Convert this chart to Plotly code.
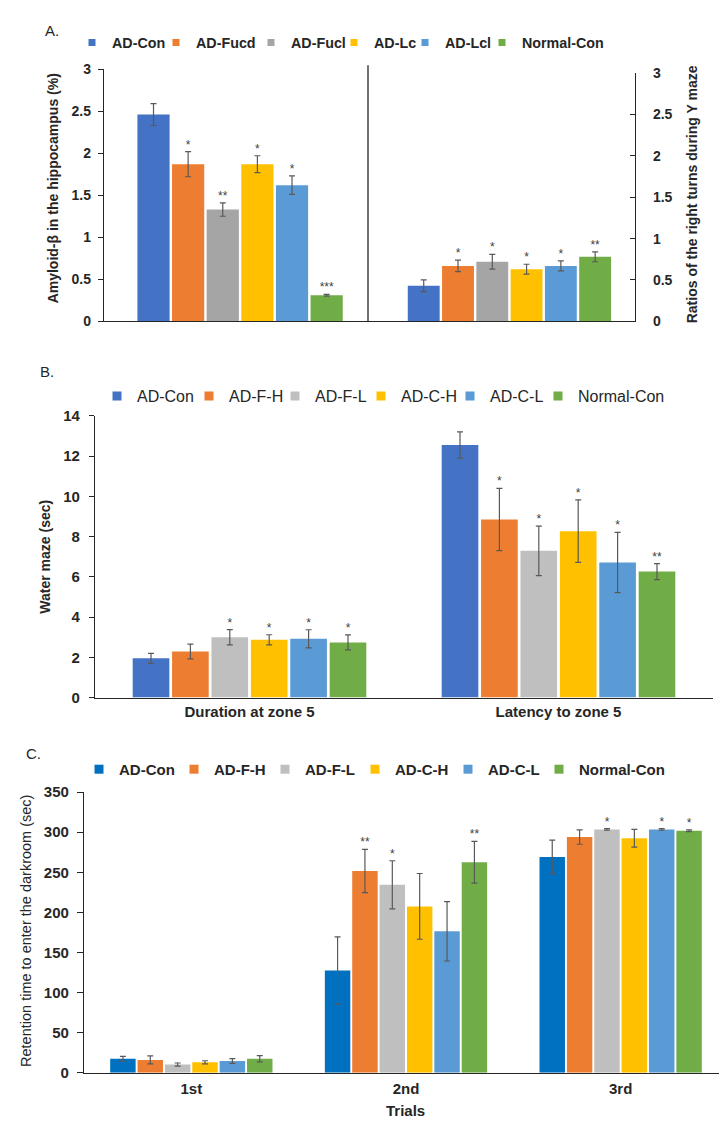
import plotly.graph_objects as go

# ---------------- data ----------------
series_A = ["AD-Con", "AD-Fucd", "AD-Fucl", "AD-Lc", "AD-Lcl", "Normal-Con"]
series_BC = ["AD-Con", "AD-F-H", "AD-F-L", "AD-C-H", "AD-C-L", "Normal-Con"]

colors_A = ["#4472C4", "#ED7D31", "#A5A5A5", "#FFC000", "#5B9BD5", "#70AD47"]
colors_B = ["#4472C4", "#ED7D31", "#BFBFBF", "#FFC000", "#5B9BD5", "#70AD47"]
colors_C = ["#0070C0", "#ED7D31", "#BFBFBF", "#FFC000", "#5B9BD5", "#70AD47"]

# Panel A
amyloid = [2.46, 1.87, 1.33, 1.87, 1.62, 0.31]
amyloid_err = [0.13, 0.15, 0.08, 0.10, 0.11, 0.01]
amyloid_sig = ["", "*", "**", "*", "*", "***"]
yturn = [0.43, 0.67, 0.72, 0.63, 0.67, 0.78]
yturn_err = [0.07, 0.07, 0.09, 0.06, 0.06, 0.06]
yturn_sig = ["", "*", "*", "*", "*", "**"]

# Panel B
wm_cats = ["Duration at zone 5", "Latency to zone 5"]
wm_duration = [1.95, 2.29, 3.00, 2.87, 2.92, 2.74]
wm_duration_err = [0.25, 0.37, 0.38, 0.25, 0.45, 0.37]
wm_duration_sig = ["", "", "*", "*", "*", "*"]
wm_latency = [12.55, 8.85, 7.29, 8.27, 6.71, 6.26]
wm_latency_err = [0.65, 1.55, 1.23, 1.55, 1.50, 0.40]
wm_latency_sig = ["", "*", "*", "*", "*", "**"]

# Panel C
trials = ["1st", "2nd", "3rd"]
ret_1st = [17.5, 16.0, 10.2, 13.0, 14.7, 17.5]
ret_1st_err = [3, 5, 2, 2, 3, 4]
ret_1st_sig = ["", "", "", "", "", ""]
ret_2nd = [127.4, 251.6, 234.4, 207.5, 176.4, 262.6]
ret_2nd_err = [42, 27, 30, 41, 37, 26]
ret_2nd_sig = ["", "**", "*", "", "", "**"]
ret_3rd = [269.0, 294.0, 303.4, 292.4, 303.4, 301.8]
ret_3rd_err = [21, 9, 1, 11, 1, 1]
ret_3rd_sig = ["", "", "*", "", "*", "*"]

# ---------------- layout helpers ----------------
W, H = 727, 1124
FONT = "Liberation Sans, Arial, sans-serif"
AXC = "#262626"
ERRC = "#595959"
STARC = "#404040"

# legend entry text-start positions (px) and row positions for each panel
legA_x = [110, 194, 289, 372, 443, 520]
legB_x = [135, 227, 313, 399, 488, 576]
legC_x = [117, 212, 303, 393, 486, 577]
legA_y, legB_y, legC_y = 26, 385, 764
LEG_TEXT_OFFSET = 46


def px(x):
    return x / W


def py(y):
    return 1 - y / H


def err(arr):
    return dict(type="data", array=arr, visible=True, color=ERRC, thickness=1.2, width=3)


fig = go.Figure()
legend_layouts = {}
legend_counter = [0]


def new_legend(xpx, ypx, font):
    legend_counter[0] += 1
    key = "legend" if legend_counter[0] == 1 else "legend%d" % legend_counter[0]
    legend_layouts[key] = dict(
        orientation="h", x=px(xpx - LEG_TEXT_OFFSET), y=py(ypx), xanchor="left",
        yanchor="middle", font=font, bgcolor="rgba(0,0,0,0)", itemclick=False,
        itemdoubleclick=False, itemsizing="trace")
    return key


def add_legend_entry(name, color, legend, size):
    # legend proxy (no data points) so the swatch is a small square like the original
    fig.add_trace(go.Scatter(
        x=[None], y=[None], mode="markers", name=name, legend=legend, showlegend=True,
        marker=dict(symbol="square", size=size, color=color, line=dict(width=0)),
        xaxis="x5", yaxis="y5", hoverinfo="skip"))


def add_group(xcats, vals, errs, sigs, color, name, xa, ya, og, star_size=12):
    fig.add_trace(go.Bar(
        x=xcats, y=vals, error_y=err(errs), marker=dict(color=color, line=dict(width=0)),
        name=name, showlegend=False, offsetgroup=og,
        xaxis=xa, yaxis=ya, hoverinfo="skip"))
    fig.add_trace(go.Scatter(
        x=xcats, y=[v + e for v, e in zip(vals, errs)], text=sigs, mode="text",
        textposition="top center", textfont=dict(family=FONT, size=star_size, color=STARC),
        offsetgroup=og, showlegend=False, xaxis=xa, yaxis=ya, hoverinfo="skip",
        cliponaxis=False))


fontA = dict(family=FONT, size=14.3, color=AXC, weight="bold")
fontB = dict(family=FONT, size=16, color=AXC)
fontC = dict(family=FONT, size=15, color=AXC, weight="bold")

catA = ["A"]
for i in range(6):
    add_legend_entry(series_A[i], colors_A[i], new_legend(legA_x[i], legA_y, fontA), 7)
    add_group(catA, [amyloid[i]], [amyloid_err[i]], [amyloid_sig[i]], colors_A[i],
              series_A[i], "x", "y", str(i))
    add_group(catA, [yturn[i]], [yturn_err[i]], [yturn_sig[i]], colors_A[i],
              series_A[i], "x2", "y2", str(i))
for i in range(6):
    add_legend_entry(series_BC[i], colors_B[i], new_legend(legB_x[i], legB_y, fontB), 9)
    add_group(wm_cats, [wm_duration[i], wm_latency[i]],
              [wm_duration_err[i], wm_latency_err[i]],
              [wm_duration_sig[i], wm_latency_sig[i]], colors_B[i],
              series_BC[i], "x3", "y3", str(i))
for i in range(6):
    add_legend_entry(series_BC[i], colors_C[i], new_legend(legC_x[i], legC_y, fontC), 9)
    add_group(trials, [ret_1st[i], ret_2nd[i], ret_3rd[i]],
              [ret_1st_err[i], ret_2nd_err[i], ret_3rd_err[i]],
              [ret_1st_sig[i], ret_2nd_sig[i], ret_3rd_sig[i]], colors_C[i],
              series_BC[i], "x4", "y4", str(i))

bold14 = dict(family=FONT, size=14, color=AXC, weight="bold")
bold15 = dict(family=FONT, size=15, color=AXC, weight="bold")

common_x = dict(showline=True, linecolor=AXC, linewidth=1.3, showgrid=False, zeroline=False,
                ticks="", fixedrange=True)
common_y = dict(showline=True, linecolor=AXC, linewidth=1.3, showgrid=False, zeroline=False,
                ticks="outside", ticklen=5, tickcolor=AXC, fixedrange=True)

fig.update_layout(
    width=W, height=H, autosize=False,
    margin=dict(l=0, r=0, t=0, b=0),
    paper_bgcolor="white", plot_bgcolor="white",
    font=dict(family=FONT, color=AXC),
    barmode="group", bargap=0.235, bargroupgap=0.07,
    scattermode="group", scattergap=0.235,
    xaxis=dict(common_x, domain=[px(96), px(360)], range=[-0.501, 0.471],
               showticklabels=False, anchor="y"),
    yaxis=dict(common_y, domain=[py(309), py(53)], range=[0, 3], dtick=0.5,
               tickfont=bold14, anchor="x", ticklabelstandoff=4),
    xaxis2=dict(common_x, domain=[px(360), px(627)], range=[-0.526, 0.467],
                showticklabels=False, anchor="y2"),
    yaxis2=dict(common_y, domain=[py(309), py(57)], range=[0, 3], dtick=0.5,
                side="right", ticks="inside", tickfont=bold14, anchor="x2",
                ticklabelstandoff=14),
    xaxis3=dict(common_x, domain=[px(87), px(705)], tickfont=bold15, anchor="y3",
                ticklabelstandoff=0),
    yaxis3=dict(common_y, domain=[py(691), py(405)], range=[0, 14], dtick=2,
                tickfont=bold15, anchor="x3", ticklabelstandoff=6),
    xaxis4=dict(common_x, domain=[px(76), px(720)], tickfont=bold15, anchor="y4",
                ticklabelstandoff=2),
    yaxis4=dict(common_y, domain=[py(1072), py(787)], range=[0, 350], dtick=50,
                tickfont=bold15, anchor="x4", ticklabelstandoff=5, ticklen=6),
    xaxis5=dict(visible=False, domain=[0, 0.01], anchor="y5", fixedrange=True),
    yaxis5=dict(visible=False, domain=[0, 0.01], anchor="x5", fixedrange=True),
    showlegend=True,
)
fig.update_layout(**legend_layouts)

# divider line in panel A
fig.add_shape(type="line", xref="paper", yref="paper", x0=px(360), x1=px(360),
              y0=py(309), y1=py(49), line=dict(color=AXC, width=1.3))

annos = [
    dict(text="A.", x=px(44), y=py(14), size=15, weight="normal", angle=0),
    dict(text="B.", x=px(39), y=py(360), size=15, weight="normal", angle=0),
    dict(text="C.", x=px(25), y=py(748), size=15, weight="normal", angle=0),
    dict(text="Amyloid-β in the hippocampus (%)", x=px(45), y=py(174), size=14,
         weight="bold", angle=-90),
    dict(text="Ratios of the right turns during Y maze", x=px(684), y=py(180), size=14,
         weight="bold", angle=-90),
    dict(text="Water maze (sec)", x=px(37), y=py(548), size=14, weight="bold", angle=-90),
    dict(text="Retention time to enter the darkroom (sec)", x=px(18), y=py(928), size=14.5,
         weight="normal", angle=-90),
    dict(text="Trials", x=px(397), y=py(1110), size=15, weight="bold", angle=0),
]
for a in annos:
    fig.add_annotation(text=a["text"], x=a["x"], y=a["y"], xref="paper", yref="paper",
                       showarrow=False, textangle=a["angle"], xanchor="center",
                       yanchor="middle",
                       font=dict(family=FONT, size=a["size"], color=AXC, weight=a["weight"]))

fig.write_html("out.html", config={"displayModeBar": False})
